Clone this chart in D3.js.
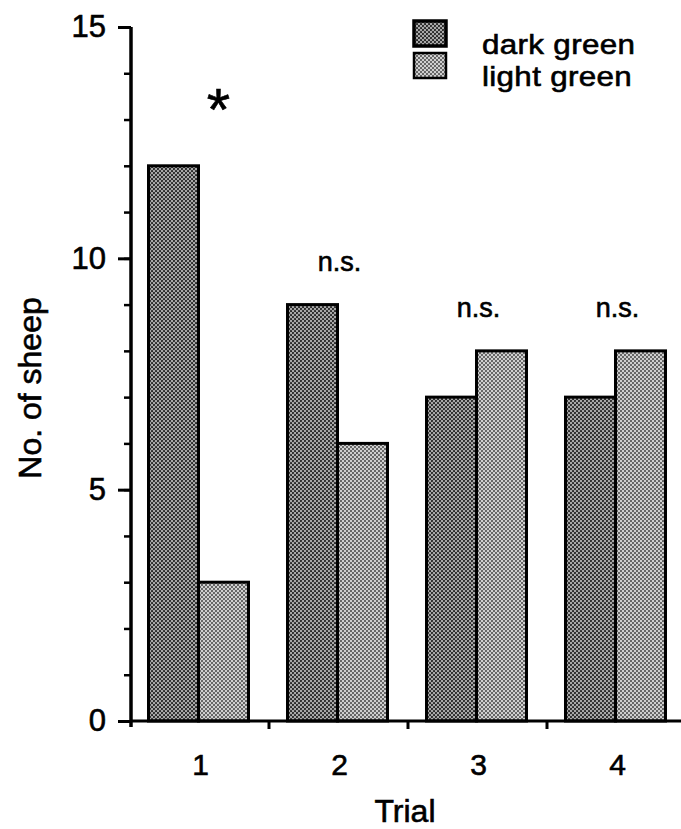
<!DOCTYPE html>
<html>
<head>
<meta charset="utf-8">
<script src="https://cdn.jsdelivr.net/npm/d3@7"></script>
<style>
  html, body { margin: 0; padding: 0; background: #fff; }
  svg { display: block; }
  text { font-family: "Liberation Sans", Arial, Helvetica, sans-serif; fill: #000; stroke: #000; stroke-width: 0.6px; }
</style>
</head>
<body>
<svg id="chart" width="681" height="829"></svg>
<script>
// Number of sheep choosing each grass colour, per trial
const trials = ["1", "2", "3", "4"];
const series = ["dark green", "light green"];
const darkGreen = [12, 9, 7, 7];
const lightGreen = [3, 6, 8, 8];
const significance = ["*", "n.s.", "n.s.", "n.s."];
const yMajorTicks = [0, 5, 10, 15];
const yMinorTicks = d3.range(0, 16, 1);

const svg = d3.select("#chart");

// Stippled fills for the two bar types
const defs = svg.append("defs");
function stipple(id, bg, dot, r) {
  const p = defs.append("pattern")
    .attr("id", id)
    .attr("patternUnits", "userSpaceOnUse")
    .attr("width", 4).attr("height", 4);
  p.append("rect").attr("width", 4).attr("height", 4).attr("fill", bg);
  p.append("circle").attr("cx", 1).attr("cy", 1).attr("r", r).attr("fill", dot);
  p.append("circle").attr("cx", 3).attr("cy", 3).attr("r", r).attr("fill", dot);
}
stipple("fill-dark", "#a8a8a8", "#222", 1.05);
stipple("fill-light", "#cfcfcf", "#3a3a3a", 0.95);
const fills = { "dark green": "url(#fill-dark)", "light green": "url(#fill-light)" };

const x0 = d3.scaleBand().domain(trials).range([130, 686]).paddingInner(0).paddingOuter(0);
const x1 = d3.scaleBand().domain(series).range([0, x0.bandwidth()]).paddingInner(0).paddingOuter(0.39);
const y = d3.scaleLinear().domain([0, 15]).range([721, 27]);

const rows = trials.map((t, i) => ({
  trial: t,
  values: [
    { key: "dark green", value: darkGreen[i] },
    { key: "light green", value: lightGreen[i] }
  ],
  sig: significance[i],
  max: Math.max(darkGreen[i], lightGreen[i])
}));

// Bars
const groups = svg.append("g").selectAll("g")
  .data(rows).join("g")
  .attr("transform", d => `translate(${x0(d.trial) - 1},0)`);

groups.selectAll("rect")
  .data(d => d.values).join("rect")
  .attr("x", d => x1(d.key))
  .attr("y", d => y(d.value))
  .attr("width", x1.bandwidth())
  .attr("height", d => y(0) - y(d.value))
  .attr("fill", d => fills[d.key])
  .attr("stroke", "#000")
  .attr("stroke-width", 3);

// Significance labels above each pair
groups.append("text")
  .attr("x", d => x0.bandwidth() / 2 + (d.sig === "*" ? 20 : 2))
  .attr("y", d => y(d.max) - 34)
  .attr("text-anchor", "middle")
  .attr("font-size", d => d.sig === "*" ? 60 : 27)
  .attr("stroke-width", d => d.sig === "*" ? 2 : 0.6)
  .attr("dy", d => d.sig === "*" ? -2 : 0)
  .text(d => d.sig);

// Y axis: major ticks labelled, minor ticks every unit
const yAxisMinor = d3.axisLeft(y).tickValues(yMinorTicks).tickSize(7).tickFormat("");
const yAxisMajor = d3.axisLeft(y).tickValues(yMajorTicks).tickSize(13).tickPadding(12);

const gMinor = svg.append("g").attr("transform", "translate(131,0)").call(yAxisMinor);
gMinor.select(".domain").remove();
gMinor.selectAll("line").attr("stroke", "#000").attr("stroke-width", 2.5);

const gMajor = svg.append("g").attr("transform", "translate(131,0)").call(yAxisMajor);
gMajor.select(".domain").attr("stroke", "#000").attr("stroke-width", 3.5)
  .attr("d", `M0,${y(0) + 6}V${y(15)}`);
gMajor.selectAll("line").attr("stroke", "#000").attr("stroke-width", 3);
gMajor.selectAll("text")
  .attr("font-size", 31)
  .attr("fill", "#000")
  .attr("font-family", "'Liberation Sans', Arial, sans-serif");

// X axis: baseline with small ticks between trials
const xAxis = svg.append("g");
xAxis.append("line")
  .attr("x1", 130).attr("x2", 681)
  .attr("y1", y(0)).attr("y2", y(0))
  .attr("stroke", "#000").attr("stroke-width", 3);
xAxis.selectAll("line.sep")
  .data(trials.slice(1)).join("line")
  .attr("class", "sep")
  .attr("x1", d => x0(d)).attr("x2", d => x0(d))
  .attr("y1", y(0)).attr("y2", y(0) + 8)
  .attr("stroke", "#000").attr("stroke-width", 3);
xAxis.selectAll("text")
  .data(trials).join("text")
  .attr("x", d => x0(d) + x0.bandwidth() / 2 + 1)
  .attr("y", 775)
  .attr("text-anchor", "middle")
  .attr("font-size", 30)
  .text(d => d);

// Axis titles
svg.append("text")
  .attr("x", 405).attr("y", 822)
  .attr("text-anchor", "middle")
  .attr("font-size", 32)
  .text("Trial");

svg.append("text")
  .attr("transform", "translate(41,388) rotate(-90)")
  .attr("text-anchor", "middle")
  .attr("font-size", 32)
  .text("No. of sheep");

// Legend
const legend = svg.append("g").attr("transform", "translate(414,21)");
const li = legend.selectAll("g").data(series).join("g")
  .attr("transform", (d, i) => `translate(0,${i * 32})`);
li.append("rect")
  .attr("width", 32).attr("height", 25)
  .attr("fill", d => fills[d])
  .attr("stroke", "#000")
  .attr("stroke-width", (d, i) => i === 0 ? 3.5 : 2.5);
li.append("text")
  .attr("transform", "translate(68,33) scale(1.14,1)")
  .attr("font-size", 27.5)
  .attr("letter-spacing", 0.3)
  .text(d => d);
</script>
</body>
</html>
